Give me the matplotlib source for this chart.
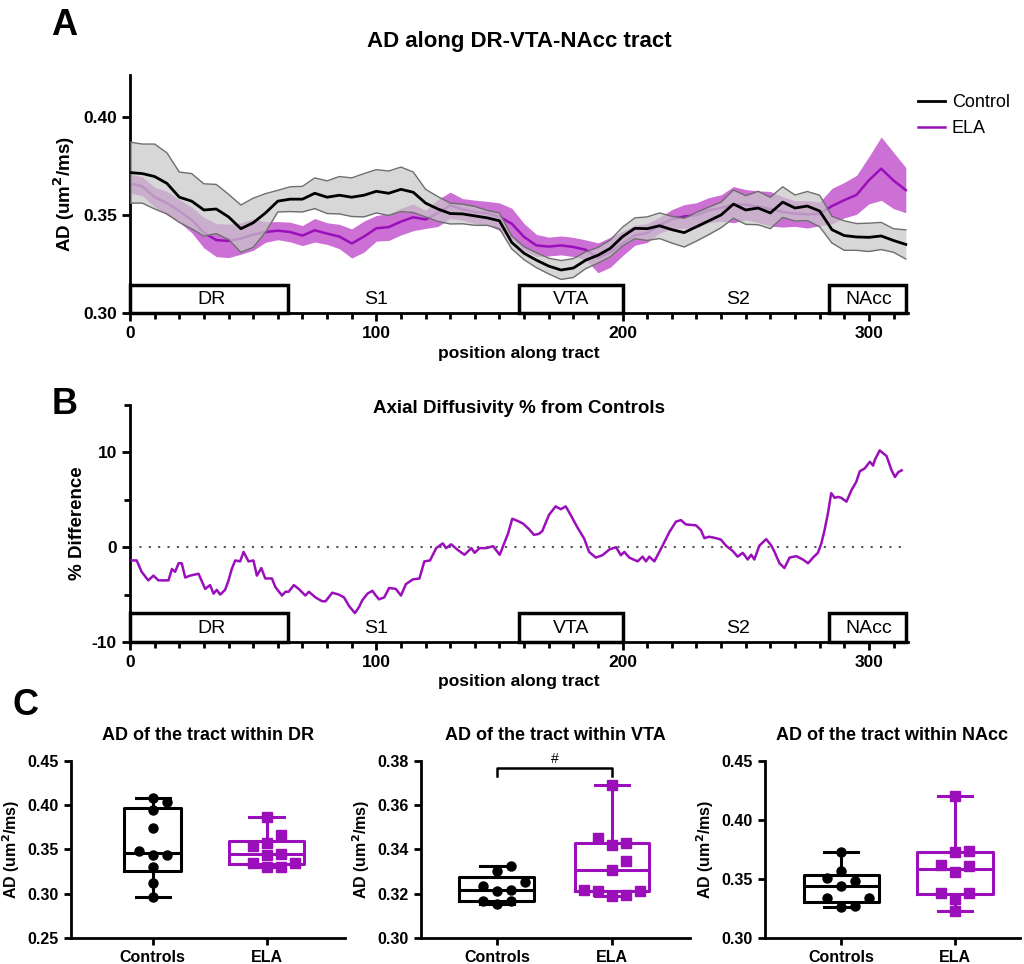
import numpy as np
import matplotlib.pyplot as plt
from matplotlib.patches import Rectangle

plt.rcParams['font.family'] = ['Liberation Sans', 'DejaVu Sans']
plt.rcParams['axes.linewidth'] = 2
plt.rcParams['axes.unicode_minus'] = False

PURPLE = '#9a0fba'
PURPLE_FILL = '#b833c4'

# ---- panel A: mean +/- sem along tract ----
pos = np.arange(0, 320, 5)
ctrl_mean = [0.3715, 0.371, 0.3695, 0.366, 0.359, 0.357, 0.3525, 0.353, 0.349, 0.343,
             0.346, 0.351, 0.357, 0.358, 0.358, 0.361, 0.359, 0.360, 0.359, 0.360,
             0.362, 0.361, 0.363, 0.3615, 0.356, 0.353, 0.3507, 0.3505, 0.3495, 0.3485,
             0.347, 0.336, 0.3305, 0.327, 0.324, 0.322, 0.323, 0.327, 0.3295, 0.333,
             0.339, 0.3432, 0.343, 0.3445, 0.3425, 0.341, 0.344, 0.347, 0.350, 0.3555,
             0.3525, 0.3535, 0.351, 0.3565, 0.3535, 0.3545, 0.352, 0.3425, 0.3395, 0.3388,
             0.3386, 0.3393, 0.337, 0.335]
ctrl_sem = [0.0155, 0.015, 0.0165, 0.0155, 0.0128, 0.014, 0.0133, 0.0125, 0.0115, 0.012,
            0.0125, 0.0098, 0.0055, 0.0063, 0.0065, 0.0078, 0.0083, 0.0095, 0.0098, 0.011,
            0.011, 0.0113, 0.0113, 0.0103, 0.007, 0.0063, 0.0053, 0.005, 0.0048, 0.0038,
            0.004, 0.0033, 0.0033, 0.0038, 0.004, 0.0048, 0.0048, 0.0043, 0.004, 0.0043,
            0.0048, 0.0053, 0.006, 0.0065, 0.0068, 0.0073, 0.0073, 0.007, 0.0065, 0.0072,
            0.0073, 0.0085, 0.008, 0.0078, 0.0066, 0.0074, 0.008, 0.0068, 0.0075, 0.0068,
            0.0072, 0.0069, 0.006, 0.0074]
ela_mean = [0.366, 0.3645, 0.359, 0.356, 0.352, 0.3475, 0.341, 0.3372, 0.3368, 0.338,
            0.340, 0.3413, 0.342, 0.3413, 0.3395, 0.3422, 0.3405, 0.339, 0.3355, 0.339,
            0.3432, 0.3438, 0.3466, 0.3488, 0.3477, 0.351, 0.3549, 0.3528, 0.3515, 0.3509,
            0.3491, 0.3455, 0.3388, 0.3345, 0.3339, 0.3345, 0.3337, 0.3323, 0.3282, 0.331,
            0.3355, 0.3397, 0.3408, 0.3448, 0.3478, 0.3492, 0.3498, 0.3524, 0.3535, 0.3552,
            0.3552, 0.3542, 0.3531, 0.3515, 0.3507, 0.3503, 0.3505, 0.3545, 0.3575, 0.3602,
            0.3676, 0.3735, 0.3675, 0.3626]
ela_sem = [0.0048, 0.0048, 0.005, 0.006, 0.0058, 0.0065, 0.0078, 0.0084, 0.0085, 0.008,
           0.008, 0.0052, 0.0046, 0.005, 0.0051, 0.006, 0.0055, 0.0062, 0.0074, 0.0079,
           0.0065, 0.0068, 0.0068, 0.0068, 0.0046, 0.0069, 0.0067, 0.0055, 0.006, 0.006,
           0.007, 0.0079, 0.0068, 0.0056, 0.0048, 0.0048, 0.0049, 0.005, 0.0076, 0.0076,
           0.0062, 0.0051, 0.0048, 0.004, 0.0049, 0.006, 0.0064, 0.0064, 0.0067, 0.0092,
           0.0077, 0.008, 0.0088, 0.0077, 0.0065, 0.007, 0.006, 0.009, 0.009, 0.0099,
           0.012, 0.0161, 0.0143, 0.0115]

# ---- panel B: % difference from controls ----
pct_x = [0.7, 2.7, 4.7, 7.4, 9.5, 11.5, 15.6, 17, 18.3, 19.7, 21, 22.4, 24.4, 27.8, 30.5,
         32.5, 33.9, 35.2, 36.6, 38.6, 40, 41.3, 42.7, 44.7, 46.1, 48.1, 50.1, 51.5, 53.3,
         54.9, 57.6, 59, 61.7, 63.1, 64.4, 66.5, 68.5, 71.2, 72.6, 75.3, 78, 79.4, 82.1,
         84.8, 86.9, 88.9, 91.3, 93, 94.3, 96.4, 98.4, 99.8, 101.1, 103.2, 105.2, 107.9,
         110, 112, 114.8, 117.5, 119.5, 121.8, 124.3, 127, 128.3, 130.4, 133.1, 135.8,
         138.6, 139.9, 141.9, 144.6, 147.4, 150.1, 153.5, 155.2, 157.5, 159.5, 162, 164,
         166, 167.4, 170.1, 172.8, 174.9, 176.9, 178.9, 181.6, 184.4, 186.4, 189.1, 191.8,
         194.6, 197.3, 199.3, 200.7, 202.7, 206.1, 208.1, 209.5, 210.8, 212.9, 216.3, 219,
         221.7, 223.7, 225.7, 229.8, 231.8, 233.2, 235.2, 237.9, 239.9, 242, 244.7, 246.7,
         248.8, 250.8, 252.2, 253.5, 255.5, 258.3, 260.3, 261.7, 263.7, 265.7, 267.8, 270.5,
         273.2, 275.3, 277.3, 279.3, 280.7, 282, 283.4, 284.7, 286.1, 287.5, 288.8, 290.9,
         292.9, 294.9, 296.3, 298.3, 300.4, 301.7, 302.4, 304.4, 307.2, 309.2, 310.6,
         311.9, 313.3]
pct_diff = [-1.4, -1.4, -2.6, -3.5, -3.0, -3.5, -3.5, -2.3, -2.6, -1.7, -1.7, -3.2, -3.0,
            -2.8, -4.4, -4.0, -4.9, -4.5, -5.0, -4.5, -3.5, -2.3, -1.4, -1.5, -0.5, -1.5,
            -1.4, -3.0, -2.2, -3.3, -3.3, -4.2, -5.1, -4.7, -4.7, -4.0, -4.4, -5.1, -4.7,
            -5.3, -5.7, -5.7, -4.8, -5.0, -5.3, -6.2, -6.95, -6.3, -5.6, -4.9, -4.6, -5.1,
            -5.5, -5.3, -4.3, -4.4, -5.1, -3.9, -3.4, -3.3, -1.5, -1.4, -0.1, 0.4, -0.1, 0.3,
            -0.3, -0.8, -0.1, -0.6, -0.1, -0.1, 0.1, -0.8, 1.45, 3.0, 2.75, 2.5, 1.9, 1.3,
            1.4, 1.7, 3.4, 4.3, 4.0, 4.3, 3.4, 2.1, 0.9, -0.5, -1.1, -0.85, -0.25, 0.0,
            -0.85, -0.5, -1.1, -1.5, -1.0, -1.5, -1.0, -1.5, 0.2, 1.6, 2.7, 2.85, 2.4, 2.3,
            1.8, 0.95, 1.1, 0.95, 0.8, 0.15, -0.4, -1.0, -0.6, -1.3, -0.8, -1.3, 0.15, 0.85,
            0.2, -0.5, -1.7, -2.2, -1.1, -0.95, -1.3, -1.7, -1.1, -0.6, 0.4, 1.8, 3.6, 5.7,
            5.2, 5.3, 5.2, 4.8, 6.0, 6.9, 8.0, 8.3, 9.0, 8.6, 9.2, 10.2, 9.6, 8.1, 7.4, 7.9,
            8.1]

# tract segments: name, start, end, boxed
regions = [('DR', 0, 64, True), ('S1', 64, 158, False), ('VTA', 158, 200, True),
           ('S2', 200, 284, False), ('NAcc', 284, 315, True)]
region_label_x = [33, 100, 179, 247, 300]

# ---- panel C: per-subject AD ----
dr_ctrl = [0.296, 0.312, 0.330, 0.343, 0.343, 0.348, 0.374, 0.394, 0.403, 0.408]
dr_ela = [0.3297, 0.3297, 0.3346, 0.3346, 0.344, 0.345, 0.354, 0.357, 0.3665, 0.386]
vta_ctrl = [0.3155, 0.3168, 0.3168, 0.3214, 0.3218, 0.3233, 0.3251, 0.3301, 0.3323]
vta_ela = [0.3191, 0.3195, 0.3214, 0.3214, 0.3218, 0.3308, 0.3346, 0.3421, 0.3429,
           0.3451, 0.3692]
nacc_ctrl = [0.3262, 0.3268, 0.3338, 0.3338, 0.3437, 0.3485, 0.3507, 0.3564, 0.3727]
nacc_ela = [0.3226, 0.333, 0.3381, 0.3381, 0.3555, 0.3606, 0.362, 0.3725, 0.3733, 0.4198]
groups = ['Controls', 'ELA']

fig = plt.figure(figsize=(10.24, 9.64), dpi=100)


def draw_regions(ax, height):
    for (name, a, b, boxed), lx in zip(regions, region_label_x):
        ylo = ax.get_ylim()[0]
        if boxed:
            ax.add_patch(Rectangle((a, ylo), b - a, height, facecolor='white',
                                   edgecolor='black', lw=2.5, zorder=5, clip_on=False))
        ax.text(lx, ylo + height * 0.47, name, ha='center', va='center', fontsize=14,
                zorder=6)


def style_line_axes(ax):
    ax.spines['top'].set_visible(False)
    ax.spines['right'].set_visible(False)
    ax.set_xlim(0, 316)
    ax.set_xticks([0, 100, 200, 300])
    ax.set_xticks(np.arange(0, 316, 10), minor=True)
    ax.tick_params(which='major', width=2, length=6, labelsize=12.5)
    ax.tick_params(which='minor', width=2, length=4)
    for lab in ax.get_xticklabels() + ax.get_yticklabels():
        lab.set_fontweight('bold')
    ax.set_xlabel('position along tract', fontsize=12.5, fontweight='bold', labelpad=3)


# panel A
axA = fig.add_axes([0.127, 0.675, 0.760, 0.247])
cm, cs = np.array(ctrl_mean), np.array(ctrl_sem)
em, es = np.array(ela_mean), np.array(ela_sem)
axA.fill_between(pos, em - es, em + es, color=PURPLE_FILL, alpha=0.7, lw=0, zorder=1)
axA.plot(pos, em, color=PURPLE, lw=1.8, zorder=2, label='ELA')
axA.fill_between(pos, cm - cs, cm + cs, color='#c8c8c8', alpha=0.72, lw=0, zorder=3)
axA.plot(pos, cm + cs, color='#6e6e6e', lw=1, zorder=3)
axA.plot(pos, cm - cs, color='#6e6e6e', lw=1, zorder=3)
axA.plot(pos, cm, color='black', lw=2, zorder=4, label='Control')
axA.set_ylim(0.30, 0.421)
axA.set_yticks([0.30, 0.35, 0.40])
axA.set_yticklabels(['0.30', '0.35', '0.40'])
style_line_axes(axA)
axA.set_ylabel('AD (um$^\\mathbf{2}$/ms)', fontsize=13.5, fontweight='bold')
axA.set_title('AD along DR-VTA-NAcc tract', fontsize=16, fontweight='bold', pad=20)
draw_regions(axA, 0.0145)
h, l = axA.get_legend_handles_labels()
axA.legend([h[1], h[0]], [l[1], l[0]], loc='upper left', bbox_to_anchor=(1.013, 0.92),
           frameon=False, fontsize=13, handlelength=1.45, handletextpad=0.4,
           labelspacing=0.5, borderpad=0, borderaxespad=0)

# panel B
axB = fig.add_axes([0.127, 0.334, 0.760, 0.246])
axB.plot(pct_x, pct_diff, color=PURPLE, lw=1.8, zorder=3)
axB.axhline(0, color='#555555', lw=1.5, ls=(0, (1, 3.5)), zorder=1)
axB.set_ylim(-10, 15)
axB.set_yticks([-10, 0, 10])
axB.set_yticks([-5, 5, 15], minor=True)
axB.tick_params(axis='y', which='minor', length=6)
style_line_axes(axB)
axB.set_ylabel('% Difference', fontsize=13.5, fontweight='bold')
axB.text(0.5, 0.985, 'Axial Diffusivity % from Controls', transform=axB.transAxes,
         ha='center', va='center', fontsize=13.5, fontweight='bold')
draw_regions(axB, 3.05)

fig.text(0.063, 0.974, 'A', fontsize=26, fontweight='bold', ha='center', va='center')
fig.text(0.063, 0.580, 'B', fontsize=26, fontweight='bold', ha='center', va='center')
fig.text(0.025, 0.268, 'C', fontsize=26, fontweight='bold', ha='center', va='center')


def swarm(ax, x0, vals, step_px=14, size_px=9.5):
    tr = ax.transData
    placed = []
    out = []
    for v in vals:
        px0, py = tr.transform((x0, v))
        k = 0
        while True:
            cand = [0] if k == 0 else [k, -k]
            done = False
            for c in cand:
                px = px0 + c * step_px
                if all(abs(px - qx) >= size_px - 0.1 or abs(py - qy) >= size_px
                       for qx, qy in placed):
                    placed.append((px, py))
                    out.append(tr.inverted().transform((px, py))[0])
                    done = True
                    break
            if done:
                break
            k += 1
    return out


def box_panel(rect, title, ctrl, ela, ylim, yticks, widths, xlim):
    ax = fig.add_axes(rect)
    ax.set_xlim(*xlim)
    ax.set_ylim(*ylim)
    stats = []
    for vals in (ctrl, ela):
        v = np.sort(np.asarray(vals))
        q1, med, q3 = np.percentile(v, [25, 50, 75], method='weibull')
        stats.append(dict(med=med, q1=q1, q3=q3, whislo=v.min(), whishi=v.max(),
                          fliers=[]))
    bp = ax.bxp(stats, positions=[0, 1], widths=widths, capwidths=[0.3, 0.3],
                showfliers=False, manage_ticks=False)
    for i, col in enumerate(['black', PURPLE]):
        bp['boxes'][i].set(color=col, lw=2.2)
        bp['medians'][i].set(color=col, lw=2.2)
        for j in (2 * i, 2 * i + 1):
            bp['whiskers'][j].set(color=col, lw=2.2)
            bp['caps'][j].set(color=col, lw=2.2)
    for i, (vals, col, mk) in enumerate([(ctrl, 'black', 'o'), (ela, PURPLE, 's')]):
        vs = sorted(vals)
        xs = swarm(ax, i, vs)
        ax.plot(xs, vs, ls='none', marker=mk, ms=6.5, color=col, zorder=4)
    ax.spines['top'].set_visible(False)
    ax.spines['right'].set_visible(False)
    ax.set_yticks(yticks)
    ax.set_yticklabels(['{:.2f}'.format(t) for t in yticks])
    ax.set_xticks([0, 1])
    ax.set_xticklabels(groups)
    ax.tick_params(width=2, length=5, labelsize=11.5)
    for lab in ax.get_xticklabels() + ax.get_yticklabels():
        lab.set_fontweight('bold')
    ax.set_ylabel('AD (um$^\\mathbf{2}$/ms)', fontsize=11.5, fontweight='bold')
    ax.set_title(title, fontsize=13, fontweight='bold', pad=15)
    return ax


box_panel([0.069, 0.027, 0.268, 0.184], 'AD of the tract within DR', dr_ctrl, dr_ela,
          (0.25, 0.45), [0.25, 0.30, 0.35, 0.40, 0.45], [0.5, 0.66], (-0.72, 1.69))
axC2 = box_panel([0.411, 0.027, 0.263, 0.184], 'AD of the tract within VTA', vta_ctrl,
                 vta_ela, (0.30, 0.38), [0.30, 0.32, 0.34, 0.36, 0.38], [0.65, 0.65],
                 (-0.66, 1.68))
axC2.plot([0, 0, 1, 1], [0.3732, 0.3767, 0.3767, 0.3732], color='black', lw=1.8,
          clip_on=False)
axC2.text(0.5, 0.3775, '#', ha='center', va='bottom', fontsize=10)
box_panel([0.747, 0.027, 0.249, 0.184], 'AD of the tract within NAcc', nacc_ctrl,
          nacc_ela, (0.30, 0.45), [0.30, 0.35, 0.40, 0.45], [0.66, 0.66], (-0.67, 1.57))

fig.savefig('out.png', dpi=100)
